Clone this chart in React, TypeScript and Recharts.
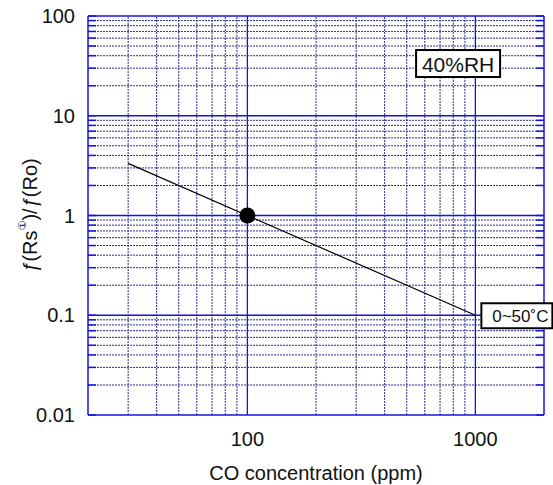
import React from 'react';
import { ComposedChart, Line, XAxis, YAxis, ReferenceLine, ReferenceDot, Label } from 'recharts';

const FONT = '"Liberation Sans", Arial, Helvetica, sans-serif';
const BLUE = '#1414e0';
const MINOR = '#2e2e92';

// sensitivity line (CO ppm vs ratio)
const concentration = [30, 1000];
const ratio = [3.33, 0.1];
const calibration = { x: 100, y: 1 };

const X_TICKS = [100, 1000];
const X_MINOR = [30, 40, 50, 60, 70, 80, 90, 200, 300, 400, 500, 600, 700, 800, 900];
const Y_MAJOR = [0.01, 0.1, 1, 10, 100];
const Y_MINOR = [
  0.02, 0.03, 0.04, 0.05, 0.06, 0.07, 0.08, 0.09,
  0.2, 0.3, 0.4, 0.5, 0.6, 0.7, 0.8, 0.9,
  2, 3, 4, 5, 6, 7, 8, 9,
  20, 30, 40, 50, 60, 70, 80, 90,
];
const Y_TICKS = [...Y_MAJOR, ...Y_MINOR].sort((a, b) => a - b);

// annotation anchors
const rhLabel = { x: 840, y: 33, text: '40%RH' };
const tempLabel = { x: 1000, y: 0.1, text: '0~50˚C' };

const lineData = concentration.map((x, i) => ({ x, y: ratio[i] }));

function YLabel(props: any) {
  const vb = props.viewBox || { x: 0, y: 0, width: 88, height: 400 };
  const cx = vb.x + 30;
  const cy = vb.y + vb.height / 2;
  return (
    <text
      x={cx}
      y={cy}
      transform={`rotate(-90 ${cx} ${cy})`}
      textAnchor="middle"
      dominantBaseline="central"
      fontSize={20}
      fontFamily={FONT}
      fill="#111"
    >
      <tspan fontStyle="italic">ƒ</tspan>
      <tspan>(Rs</tspan>
      <tspan fontSize={11} dy={-8} fontFamily='"DejaVu Sans", sans-serif'>①</tspan>
      <tspan dy={8}>)/</tspan>
      <tspan fontStyle="italic">ƒ</tspan>
      <tspan>(Ro)</tspan>
    </text>
  );
}

function RhBox(props: any) {
  const { cx, cy } = props;
  return (
    <g>
      <rect x={cx - 42} y={cy - 14} width={84} height={27} fill="#fff" stroke="#000" strokeWidth={2} />
      <text x={cx} y={cy + 7.5} textAnchor="middle" fontSize={21} fontFamily={FONT} fill="#111">
        {rhLabel.text}
      </text>
    </g>
  );
}

function TempBox(props: any) {
  const { cx, cy } = props;
  return (
    <g>
      <rect x={cx + 6} y={cy - 12} width={71} height={25} fill="#fff" stroke="#000" strokeWidth={2} />
      <text x={cx + 45} y={cy + 6.5} textAnchor="middle" fontSize={17} fontFamily={FONT} fill="#111">
        {tempLabel.text}
      </text>
    </g>
  );
}

export default function App() {
  return (
    <div style={{ position: 'absolute', left: 0, top: 0, background: '#fff' }}>
      <ComposedChart width={553} height={485} data={lineData} margin={{ top: 16, right: 8, bottom: 0, left: 0 }}>
        <XAxis
          dataKey="x"
          type="number"
          scale="log"
          domain={[20, 2000]}
          allowDataOverflow
          ticks={X_TICKS}
          interval={0}
          height={70}
          tickLine={false}
          tickSize={0}
          tickMargin={17}
          axisLine={{ stroke: BLUE, strokeWidth: 1.5 }}
          tick={{ fontSize: 20, fill: '#111', fontFamily: FONT }}
        >
          <Label
            value="CO concentration (ppm)"
            position="insideBottom"
            offset={5}
            style={{ fontSize: 20, fill: '#111', fontFamily: FONT }}
          />
        </XAxis>
        <YAxis
          yAxisId="left"
          type="number"
          scale="log"
          domain={[0.01, 100]}
          allowDataOverflow
          ticks={Y_TICKS}
          interval={0}
          width={88}
          tickSize={-8}
          tickMargin={21}
          tickLine={{ stroke: BLUE, strokeWidth: 1.5 }}
          axisLine={{ stroke: BLUE, strokeWidth: 1.5 }}
          tick={{ fontSize: 20, fill: '#111', fontFamily: FONT }}
          tickFormatter={(v: number) => (Y_MAJOR.includes(v) ? String(v) : '')}
        >
          <Label content={<YLabel />} position="insideLeft" />
        </YAxis>
        <YAxis
          yAxisId="right"
          orientation="right"
          type="number"
          scale="log"
          domain={[0.01, 100]}
          allowDataOverflow
          ticks={Y_TICKS}
          interval={0}
          width={1}
          tickSize={-8}
          tickLine={{ stroke: BLUE, strokeWidth: 1.5 }}
          axisLine={{ stroke: BLUE, strokeWidth: 1.5 }}
          tickFormatter={() => ''}
        />

        {Y_MINOR.map((v) => (
          <ReferenceLine key={`hy${v}`} yAxisId="left" y={v} stroke={MINOR} strokeWidth={1} strokeDasharray="2 1" />
        ))}
        {X_MINOR.map((v) => (
          <ReferenceLine key={`vx${v}`} yAxisId="left" x={v} stroke={MINOR} strokeWidth={1} strokeDasharray="2 1" />
        ))}
        {Y_MAJOR.slice(1, 4).map((v) => (
          <ReferenceLine key={`HY${v}`} yAxisId="left" y={v} stroke={BLUE} strokeWidth={1.6} />
        ))}
        {X_TICKS.map((v) => (
          <ReferenceLine key={`VX${v}`} yAxisId="left" x={v} stroke={BLUE} strokeWidth={1.3} />
        ))}
        <ReferenceLine yAxisId="left" y={100} stroke={BLUE} strokeWidth={1.5} />

        <Line
          yAxisId="left"
          type="linear"
          dataKey="y"
          stroke="#000"
          strokeWidth={1.2}
          dot={false}
          activeDot={false}
          isAnimationActive={false}
        />
        <ReferenceDot yAxisId="left" x={calibration.x} y={calibration.y} r={8} fill="#000" stroke="none" />
        <ReferenceDot yAxisId="left" x={rhLabel.x} y={rhLabel.y} r={0} shape={<RhBox />} />
        <ReferenceDot yAxisId="left" x={tempLabel.x} y={tempLabel.y} r={0} shape={<TempBox />} />
      </ComposedChart>
    </div>
  );
}
